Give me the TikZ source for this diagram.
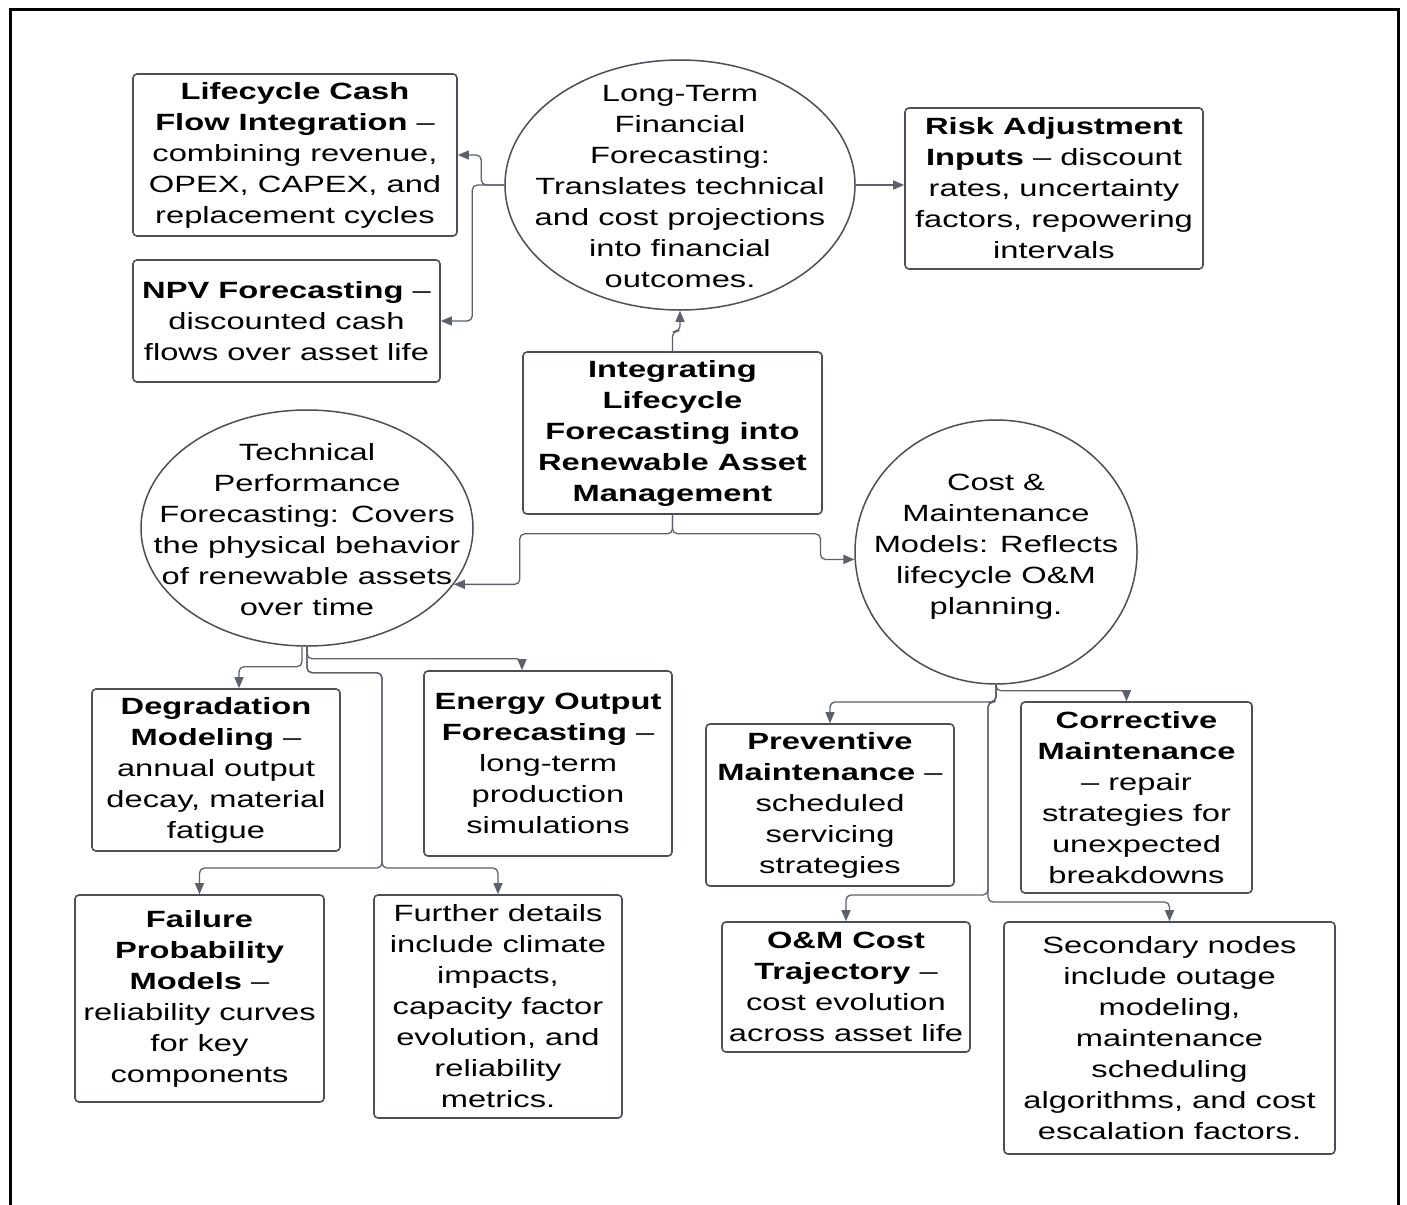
\documentclass[tikz,border=0pt]{standalone}
\usepackage{fontspec}
\newfontfamily\df[FakeStretch=1.39]{Liberation Sans}
\usetikzlibrary{shapes.geometric,arrows.meta}
\definecolor{bordc}{HTML}{4A4E57}
\definecolor{linec}{HTML}{5B606B}
\tikzset{
 every node/.style={font=\df\fontsize{23.5}{31}\selectfont, align=center, inner sep=0pt, text=black},
 bx/.style={draw=bordc, line width=1.6pt, rounded corners=4pt, rectangle},
 ell/.style={draw=bordc, line width=1.5pt, ellipse, inner sep=0pt},
 conn/.style={draw=linec, line width=1.3pt, rounded corners=5pt, -{Triangle[length=11pt,width=9pt]}},
}
\begin{document}
\begin{tikzpicture}[x=1pt,y=-1pt]
\useasboundingbox (0,0) rectangle (1407,1204);
\begin{scope}
\clip (0,0) rectangle (1407,1204);
\draw[line width=3pt,black] (10,10) rectangle (1398,1215);
\end{scope}

% top row
\node[bx,minimum width=324pt,minimum height=162pt] (lcf) at (295,155) {\textbf{Lifecycle Cash}\\\textbf{Flow Integration} –\\combining revenue,\\OPEX, CAPEX, and\\replacement cycles};
\node[bx,minimum width=307pt,minimum height=122pt] (npv) at (286.5,321) {\textbf{NPV Forecasting} –\\discounted cash\\flows over asset life};
\node[ell,minimum width=350pt,minimum height=250pt] (ltf) at (680,185) {};
\node (ltft) at (680,187) {Long-Term\\Financial\\Forecasting:\\Translates technical\\and cost projections\\into financial\\outcomes.};
\node[bx,minimum width=298pt,minimum height=161pt] (risk) at (1054,188.5) {\textbf{Risk Adjustment}\\\textbf{Inputs} – discount\\rates, uncertainty\\factors, repowering\\intervals};

% center
\node[bx,minimum width=299pt,minimum height=162pt] (cen) at (672.5,433) {\textbf{Integrating}\\\textbf{Lifecycle}\\\textbf{Forecasting into}\\\textbf{Renewable Asset}\\\textbf{Management}};

% ellipses
\node[ell,minimum width=332pt,minimum height=236pt] (tech) at (307,528) {};
\node (techt) at (307,530) {Technical\\Performance\\Forecasting: Covers\\the physical behavior\\of renewable assets\\over time};
\node[ell,minimum width=282pt,minimum height=264pt] (cost) at (996,552) {};
\node (costt) at (996,547) {Cost \&\\Maintenance\\Models: Reflects\\lifecycle O\&M\\planning.};

% technical children
\node[bx,minimum width=248pt,minimum height=162pt] (deg) at (216,770) {\textbf{Degradation}\\\textbf{Modeling} –\\annual output\\decay, material\\fatigue};
\node[bx,minimum width=248pt,minimum height=185pt] (eng) at (548,763.5) {\textbf{Energy Output}\\\textbf{Forecasting} –\\long-term\\production\\simulations};
\node[bx,minimum width=249pt,minimum height=207pt] (fail) at (199.5,998.5) {\textbf{Failure}\\\textbf{Probability}\\\textbf{Models} –\\reliability curves\\for key\\components};
\node[bx,minimum width=248pt,minimum height=223pt] (fur) at (498,1006.5) {Further details\\include climate\\impacts,\\capacity factor\\evolution, and\\reliability\\metrics.};

% cost children
\node[bx,minimum width=248pt,minimum height=162pt] (prev) at (830,805) {\textbf{Preventive}\\\textbf{Maintenance} –\\scheduled\\servicing\\strategies};
\node[bx,minimum width=231pt,minimum height=191pt] (cor) at (1136.5,797.5) {\textbf{Corrective}\\\textbf{Maintenance}\\– repair\\strategies for\\unexpected\\breakdowns};
\node[bx,minimum width=248pt,minimum height=130pt] (om) at (846,987) {\textbf{O\&M Cost}\\\textbf{Trajectory} –\\cost evolution\\across asset life};
\node[bx,minimum width=331pt,minimum height=232pt] (sec) at (1169.5,1038) {Secondary nodes\\include outage\\modeling,\\maintenance\\scheduling\\algorithms, and cost\\escalation factors.};

% junction coordinates
\coordinate (tj) at (382,868);
\coordinate (cj) at (988,702);

% connectors
\draw[conn] (ltf.west) -- ++(-23,0) |- (lcf.east);
\draw[conn] (ltf.west) -- ++(-32,0) |- (npv.east);
\draw[conn] (cen.north) -- ++(0,-20) -| (ltf.south);
\draw[conn] (ltf.east) -- (ltf.east -| risk.west);
\draw[conn] (cen.south) -- ++(0,19) -| ([xshift=66pt]tech.-21) -- (tech.-21);
\draw[conn] (cen.south) -- ++(0,19) -| ([xshift=-34pt]cost.183) -- (cost.183);

\draw[conn] ([xshift=-5pt]tech.south) -- ++(0,20) -| ([xshift=23pt]deg.north);
\draw[conn] (tech.south) -- ++(0,12) -| ([xshift=-26pt]eng.north);
\draw[conn] (tech.south) -- ++(0,26) -| (tj) -| (fail.north);
\draw[conn] (tech.south) -- ++(0,26) -| (tj) -| (fur.north);

\draw[conn] (cost.south) -- ++(0,6) -| ([xshift=-10pt]cor.north);
\draw[conn] (cost.south) |- (cj) -| (prev.north);
\draw[conn] (cost.south) |- (cj) -- ++(0,193) -| (om.north);
\draw[conn] (cost.south) |- (cj) -- ++(0,200) -| (sec.north);
\end{tikzpicture}
\end{document}
